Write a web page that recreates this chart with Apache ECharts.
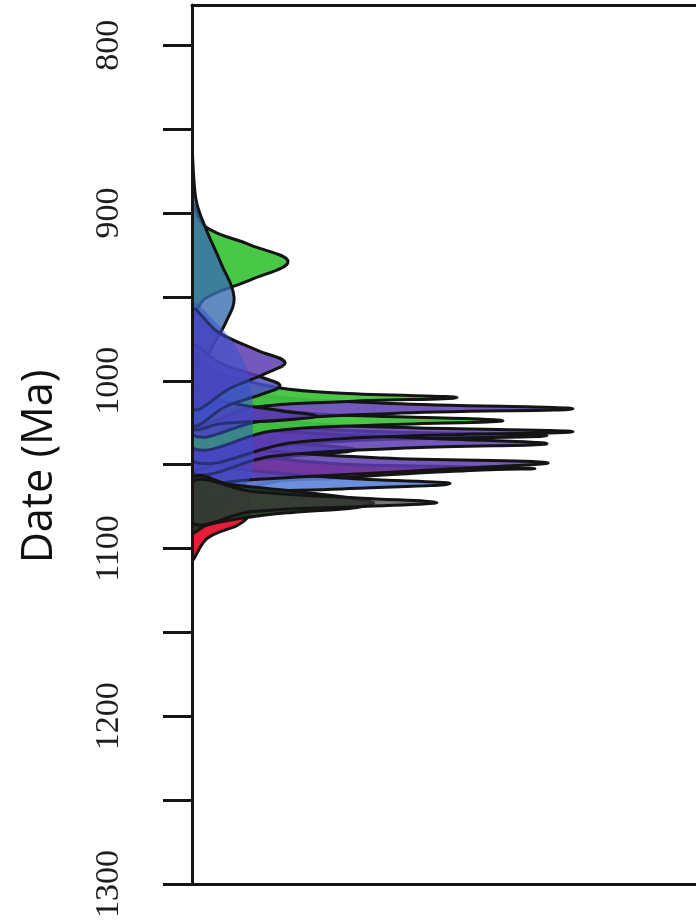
<!DOCTYPE html>
<html>
<head>
<meta charset="utf-8">
<script src="https://cdn.jsdelivr.net/npm/echarts@6/dist/echarts.min.js"></script>
<style>
  html, body { margin: 0; padding: 0; background: #fff; }
  #main { width: 696px; height: 922px; }
</style>
</head>
<body>
<div id="main"></div>
<script>
// axis ticks (Ma)
const ageTicks = [800, 850, 900, 950, 1000, 1050, 1100, 1150, 1200, 1250, 1300];
const ageLabels = [800, 900, 1000, 1100, 1200, 1300];

// density curves, points are [relative density, date Ma]
const blueBase = [[0, 955], [25, 966], [45, 981], [58, 1000], [61, 1030], [58, 1058], [30, 1074], [0, 1084]];
const greenBroad = [[0, 895], [13, 908], [58, 919], [96, 929], [58, 940], [13, 951], [0, 962]];
const steelBroad = [[0, 862], [4, 892], [13, 908], [29, 930], [42, 950], [34, 965], [20, 980], [6, 1000], [0, 1015]];
const purpleLobe = [[0, 958], [26, 971], [66, 982], [93, 989], [76, 995], [40, 1004], [0, 1016]];
const violetLobe = [[0, 980], [30, 990], [70, 998], [88, 1003], [70, 1008], [35, 1015], [0, 1026]];
const violetTip = [[0, 1005], [30, 1012], [90, 1018], [124, 1021], [90, 1023.5], [30, 1025.5], [0, 1028]];
const blueLobe = [[0, 1020], [15, 1029], [80, 1036], [163, 1041], [100, 1045], [30, 1050], [0, 1056]];
const green1010 = [[0, 988], [30, 996], [85, 1004], [150, 1007.5], [265, 1010], [150, 1012.5], [60, 1016], [0, 1025]];
const purple1017 = [[0, 995], [30, 1003], [70, 1009], [200, 1013.5], [381, 1016.7], [200, 1019.5], [70, 1024], [0, 1032]];
const green1024 = [[0, 1005], [40, 1013], [118, 1019.5], [180, 1021], [311, 1023.8], [180, 1026.5], [80, 1030], [0, 1040]];
const purple1030 = [[0, 1012], [40, 1020], [130, 1026], [220, 1028], [381, 1030.4], [220, 1032.8], [100, 1037], [0, 1048]];
const blue1033 = [[0, 1015], [50, 1024], [150, 1029.5], [355, 1032.7], [150, 1036], [50, 1042], [0, 1052]];
const purple1038 = [[0, 1024], [60, 1029], [221, 1034], [355, 1037.5], [221, 1040], [80, 1045], [0, 1055]];
const purple1049 = [[0, 1035], [60, 1041], [190, 1046], [355, 1048.8], [260, 1052.5], [120, 1057], [40, 1060], [0, 1063]];
const red1052 = [[0, 1030], [80, 1046], [290, 1051.6], [343, 1052.4], [290, 1053.2], [150, 1058], [60, 1064], [55, 1082], [15, 1094], [0, 1106]];
const lightBlue1061 = [[0, 1045], [40, 1052], [150, 1058], [258, 1061.3], [150, 1064.5], [40, 1067], [0, 1072]];
const darkGreen1073 = [[0, 1058], [40, 1062], [120, 1067], [181, 1072.6], [165, 1075.5], [100, 1078.5], [55, 1081.5], [15, 1086], [0, 1090]];
const grey1073 = [[0, 1060], [60, 1066], [170, 1070], [245, 1072.6], [170, 1075], [60, 1078], [0, 1085]];

const chart = echarts.init(document.getElementById('main'));

function curve(data, color, alpha, outline) {
  return {
    type: 'custom',
    data: data,
    clip: true,
    silent: true,
    renderItem: function (params, api) {
      if (params.dataIndex !== 0) return null;
      const pts = data.map(function (d) { return api.coord(d); });
      return {
        type: 'polygon',
        shape: { points: pts, smooth: 0.4 },
        style: {
          fill: echarts.color.modifyAlpha(color, alpha),
          stroke: outline === false ? null : '#141414',
          lineWidth: 3
        }
      };
    }
  };
}

const green = '#3fc43c';
const blue = '#3d55c8';
const purple = '#5a3cb0';

const series = [
  curve(greenBroad, green, 0.95),
  curve(steelBroad, '#3a6db0', 0.8),
  curve(red1052, '#e8102a', 0.95),
  curve(blueLobe, blue, 0.9),
  curve(lightBlue1061, '#5b83d8', 0.9),
  curve(purple1049, purple, 0.85),
  curve(blue1033, blue, 0.85),
  curve(purple1038, purple, 0.85),
  curve(purple1030, purple, 0.85),
  curve(green1024, green, 0.95),
  curve(purple1017, purple, 0.85),
  curve(green1010, green, 0.95),
  curve(violetTip, purple, 0.85),
  curve(violetLobe, '#4a4fc4', 0.85),
  curve(purpleLobe, purple, 0.85),
  curve(blueBase, '#3550d0', 0.5, false),
  curve(darkGreen1073, '#1f3b1e', 0.95),
  curve(grey1073, '#3a3a3a', 0.7)
];

const frameAxis = function (pos) {
  return {
    type: 'value',
    min: 0,
    max: 504,
    position: pos,
    z: 10,
    axisLine: { show: true, onZero: false, lineStyle: { color: '#151515', width: 3 } },
    axisTick: { show: false },
    axisLabel: { show: false },
    splitLine: { show: false }
  };
};

const option = {
  backgroundColor: '#fff',
  animation: false,
  textStyle: { fontFamily: 'Liberation Serif' },
  grid: { left: 192, right: 0, top: 5, bottom: 38 },
  xAxis: [frameAxis('bottom'), frameAxis('top')],
  yAxis: {
    type: 'value',
    inverse: true,
    min: 776,
    max: 1300,
    z: 10,
    name: 'Date (Ma)',
    nameLocation: 'middle',
    nameGap: 131,
    nameRotate: 90,
    nameTextStyle: { fontFamily: 'Open Sans', fontSize: 43, color: '#111', padding: [0, 44, 0, 0] },
    axisLine: { show: true, onZero: false, lineStyle: { color: '#151515', width: 3 } },
    axisTick: { show: true, inside: false, length: 29, customValues: ageTicks, lineStyle: { color: '#151515', width: 3 } },
    axisLabel: {
      customValues: ageLabels,
      rotate: 90,
      margin: 66,
      fontFamily: 'Liberation Serif',
      fontSize: 34,
      color: '#1e1e1e',
      formatter: function (v) { return String(v); }
    },
    splitLine: { show: false }
  },
  series: series
};

option && chart.setOption(option);
</script>
</body>
</html>
